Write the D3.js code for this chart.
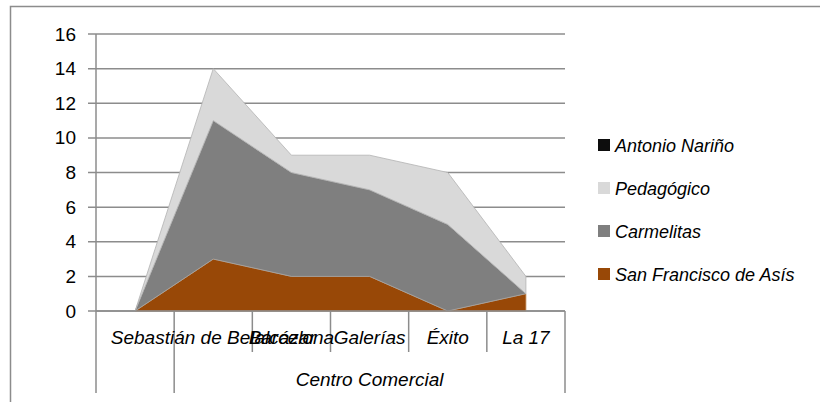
<!DOCTYPE html>
<html>
<head>
<meta charset="utf-8">
<script src="https://cdn.jsdelivr.net/npm/d3@7"></script>
<style>
  html, body { margin: 0; padding: 0; background: #fff; }
  svg { display: block; }
  text { font-family: "Liberation Sans", Arial, sans-serif; fill: #000; }
</style>
</head>
<body>
<svg id="chart" width="820" height="402"></svg>
<script>
// Shopping centres (first slot belongs to an unnamed group)
const categories = ["", "Sebastián de Belalcázar", "Barcelona", "Galerías", "Éxito", "La 17"];
const groups = [
  { label: "", from: 0, to: 0 },
  { label: "Centro Comercial", from: 1, to: 5 }
];

// Schools, one value per shopping centre
const seriesNames = ["San Francisco de Asís", "Carmelitas", "Pedagógico", "Antonio Nariño"];
const sanFrancisco = [0, 3, 2, 2, 0, 1];
const carmelitas   = [0, 8, 6, 5, 5, 0];
const pedagogico   = [0, 3, 1, 2, 3, 1];
const antonioNarino = [0, 0, 0, 0, 0, 0];

const yTicks = [0, 2, 4, 6, 8, 10, 12, 14, 16];
const colors = ["#984807", "#7f7f7f", "#d9d9d9", "#0d0d0d"];
const strokes = ["#c08a5a", "#a6a6a6", "#b3b3b3", "none"];

const rows = categories.map((c, i) => ({
  cat: c,
  "San Francisco de Asís": sanFrancisco[i],
  "Carmelitas": carmelitas[i],
  "Pedagógico": pedagogico[i],
  "Antonio Nariño": antonioNarino[i]
}));

const svg = d3.select("#chart");
const plotLeft = 96, plotRight = 565, plotTop = 34, plotBottom = 311;
const gridColor = "#8c8c8c";

// outer frame (open on the right and bottom)
svg.append("path")
  .attr("d", "M10.5,402 L10.5,6.5 L820,6.5")
  .attr("fill", "none").attr("stroke", gridColor).attr("stroke-width", 1.5);

const x = d3.scaleBand().domain(d3.range(categories.length)).range([plotLeft, plotRight]).padding(0);
const y = d3.scaleLinear().domain([0, 16]).range([plotBottom, plotTop]);
const cx = i => x(i) + x.bandwidth() / 2;

// horizontal gridlines
svg.append("g").selectAll("line").data(yTicks).join("line")
  .attr("x1", plotLeft - 8).attr("x2", plotRight)
  .attr("y1", d => y(d)).attr("y2", d => y(d))
  .attr("stroke", gridColor).attr("stroke-width", 1.5);

// stacked areas
const stack = d3.stack().keys(seriesNames);
const layers = stack(rows);
const area = d3.area()
  .x((d, i) => cx(i))
  .y0(d => y(d[0]))
  .y1(d => y(d[1]));

svg.append("g").selectAll("path").data(layers).join("path")
  .attr("d", area)
  .attr("fill", (d, i) => colors[i])
  .attr("stroke", (d, i) => strokes[i])
  .attr("stroke-width", 0.8)
  .attr("stroke-linejoin", "round");

// value axis
const yAxis = d3.axisLeft(y).tickValues(yTicks).tickSize(0).tickPadding(20);
const ya = svg.append("g").attr("transform", `translate(${plotLeft},0)`).call(yAxis);
ya.select(".domain").remove();
ya.selectAll("text")
  .style("font-family", '"Liberation Sans", Arial, sans-serif')
  .style("font-size", "19px").attr("fill", "#000");
svg.append("line")
  .attr("x1", plotLeft).attr("x2", plotLeft).attr("y1", plotTop).attr("y2", plotBottom)
  .attr("stroke", gridColor).attr("stroke-width", 1.5);

// category axis line
svg.append("line")
  .attr("x1", plotLeft).attr("x2", plotRight).attr("y1", plotBottom).attr("y2", plotBottom)
  .attr("stroke", gridColor).attr("stroke-width", 1.5);

// separators between categories (first level), group edges run deeper
const bounds = d3.range(categories.length + 1).map(i => i < categories.length ? x(i) : plotRight);
const groupEdges = new Set();
groups.forEach(g => { groupEdges.add(g.from); groupEdges.add(g.to + 1); });
svg.append("g").selectAll("line").data(bounds).join("line")
  .attr("x1", d => d).attr("x2", d => d)
  .attr("y1", plotBottom)
  .attr("y2", (d, i) => groupEdges.has(i) ? 393 : 352)
  .attr("stroke", gridColor).attr("stroke-width", 1.5);

// category labels
svg.append("g").selectAll("text").data(categories).join("text")
  .attr("x", (d, i) => cx(i)).attr("y", 344)
  .attr("text-anchor", "middle")
  .style("font-size", "19px").style("font-style", "italic")
  .text(d => d);

// group labels
svg.append("g").selectAll("text").data(groups).join("text")
  .attr("x", g => (x(g.from) + (g.to + 1 < categories.length ? x(g.to + 1) : plotRight)) / 2)
  .attr("y", 386)
  .attr("text-anchor", "middle")
  .style("font-size", "19px").style("font-style", "italic")
  .text(g => g.label);

// legend, top series first
const legendItems = seriesNames.map((n, i) => ({ name: n, color: colors[i] })).reverse();
const lg = svg.append("g").selectAll("g").data(legendItems).join("g")
  .attr("transform", (d, i) => `translate(598,${145 + i * 43})`);
lg.append("rect").attr("x", 0).attr("y", -6).attr("width", 12).attr("height", 12)
  .attr("fill", d => d.color);
lg.append("text").attr("x", 17).attr("y", 7)
  .style("font-size", "18px").style("font-style", "italic")
  .text(d => d.name);
</script>
</body>
</html>
